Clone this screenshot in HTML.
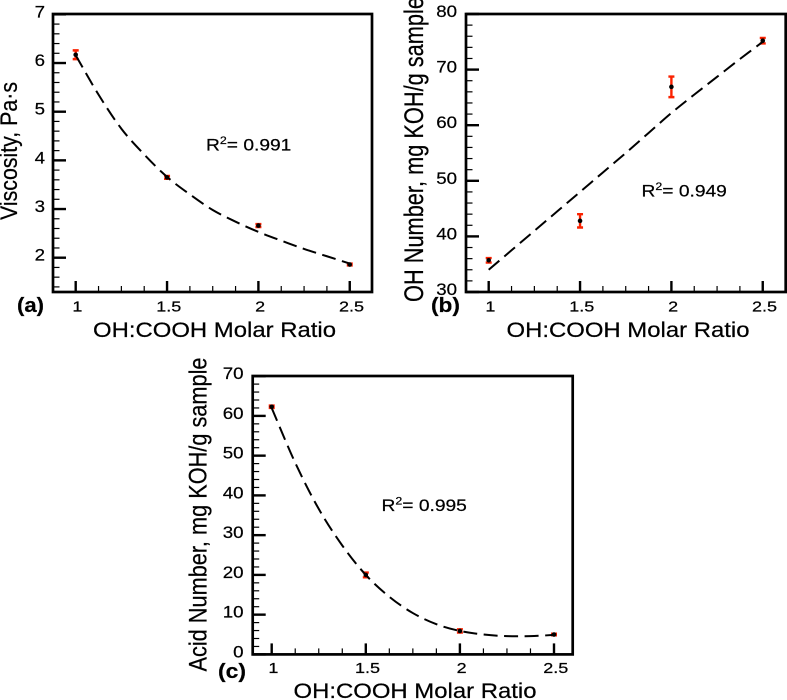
<!DOCTYPE html>
<html lang="en">
<head>
<meta charset="utf-8">
<title>OH:COOH Molar Ratio charts</title>
<style>
html,body{margin:0;padding:0;background:#fff;width:787px;height:700px;overflow:hidden}
svg{display:block}
text{font-family:"Liberation Sans",sans-serif;fill:#000;stroke:#000;stroke-width:0.22px}
</style>
</head>
<body>
<svg id="figure" xmlns="http://www.w3.org/2000/svg" width="787" height="700" viewBox="0 0 787 700">
<defs><filter id="soft" x="-2%" y="-2%" width="104%" height="104%"><feGaussianBlur stdDeviation="0.35"/></filter></defs>
<rect x="0" y="0" width="787" height="700" fill="#fff"/>
<g id="root" filter="url(#soft)">
  <g id="panel-a">
    <text transform="translate(17,220) rotate(-90)" font-size="24.5" textLength="138" lengthAdjust="spacingAndGlyphs">Viscosity, Pa·s</text>
    <text x="93" y="337" font-size="21" textLength="243" lengthAdjust="spacingAndGlyphs">OH:COOH Molar Ratio</text>
    <text x="17" y="312" font-size="20" font-weight="bold" textLength="27" lengthAdjust="spacingAndGlyphs">(a)</text>
    <text transform="translate(206,150.5) scale(1.13,1)" font-size="17">R<tspan font-size="11" dy="-6.5">2</tspan><tspan dy="6.5">= 0.991</tspan></text>
  </g>
  <g id="panel-b">
    <text transform="translate(423,302) rotate(-90)" font-size="26.5" textLength="305" lengthAdjust="spacingAndGlyphs">OH Number, mg KOH/g sample</text>
    <text x="506.5" y="337" font-size="21" textLength="243" lengthAdjust="spacingAndGlyphs">OH:COOH Molar Ratio</text>
    <text x="431" y="312" font-size="20" font-weight="bold" textLength="29" lengthAdjust="spacingAndGlyphs">(b)</text>
    <text transform="translate(641.5,196.5) scale(1.13,1)" font-size="17">R<tspan font-size="11" dy="-6.5">2</tspan><tspan dy="6.5">= 0.949</tspan></text>
  </g>
  <g id="panel-c">
    <text transform="translate(206.5,671.5) rotate(-90)" font-size="25" textLength="314" lengthAdjust="spacingAndGlyphs">Acid Number, mg KOH/g sample</text>
    <text x="293.5" y="698" font-size="21" textLength="243" lengthAdjust="spacingAndGlyphs">OH:COOH Molar Ratio</text>
    <text x="218" y="678" font-size="20" font-weight="bold" textLength="28" lengthAdjust="spacingAndGlyphs">(c)</text>
    <text transform="translate(381.5,511) scale(1.13,1)" font-size="17">R<tspan font-size="11" dy="-6.5">2</tspan><tspan dy="6.5">= 0.995</tspan></text>
  </g>
</g>
</svg>
<script>
// Shared category and tick data
const ratioCategories = [1, 1.5, 2, 2.5];
const ratioTickLabels = ['1', '1.5', '2', '2.5'];
const fitRatios = [1, 1.125, 1.25, 1.375, 1.5, 1.625, 1.75, 1.875, 2, 2.125, 2.25, 2.375, 2.5];

// Panel (a): viscosity
const viscosityValues = [6.17, 3.65, 2.66, 1.86];
const viscosityErrors = [0.09, 0.03, 0.03, 0.02];
const viscosityFit = [6.16, 5.35, 4.65, 4.12, 3.66, 3.3, 2.98, 2.74, 2.53, 2.35, 2.18, 2.03, 1.88];
const viscosityTickLabels = ['2', '3', '4', '5', '6', '7'];

// Panel (b): OH number
const ohNumberValues = [35.7, 42.8, 66.9, 75.2];
const ohNumberErrors = [0.4, 1.2, 1.85, 0.5];
const ohNumberFit = [34, 37.5, 41, 44.5, 48, 51.5, 55, 58.6, 62.2, 65.5, 68.7, 71.9, 75];
const ohNumberTickLabels = ['30', '40', '50', '60', '70', '80'];

// Panel (c): acid number
const acidNumberValues = [62.3, 20, 5.9, 5];
const acidNumberErrors = [0.3, 0.6, 0.4, 0.2];
const acidNumberFit = [62, 48.2, 36.6, 27.4, 20, 14.5, 10.4, 7.6, 5.9, 5, 4.6, 4.6, 4.9];
const acidNumberTickLabels = ['0', '10', '20', '30', '40', '50', '60', '70'];

const SVGNS = 'http://www.w3.org/2000/svg';

function make(parent, tag, attrs) {
  const el = document.createElementNS(SVGNS, tag);
  for (const k in attrs) el.setAttribute(k, attrs[k]);
  parent.appendChild(el);
  return el;
}

function smoothPath(pts) {
  let d = 'M' + pts[0][0].toFixed(2) + ' ' + pts[0][1].toFixed(2);
  for (let i = 0; i < pts.length - 1; i++) {
    const p0 = pts[Math.max(i - 1, 0)], p1 = pts[i], p2 = pts[i + 1], p3 = pts[Math.min(i + 2, pts.length - 1)];
    const c1x = p1[0] + (p2[0] - p0[0]) / 6, c1y = p1[1] + (p2[1] - p0[1]) / 6;
    const c2x = p2[0] - (p3[0] - p1[0]) / 6, c2y = p2[1] - (p3[1] - p1[1]) / 6;
    d += 'C' + [c1x, c1y, c2x, c2y, p2[0], p2[1]].map(n => n.toFixed(2)).join(' ');
  }
  return d;
}

function drawPanel(c) {
  const host = document.getElementById(c.host);
  const xScale = v => c.x1 + (v - 1) * c.xUnit;
  const yScale = v => c.yRef - (v - c.yRefValue) * c.yUnit;
  const yBottomValue = c.yRefValue - (c.bottom - c.yRef) / c.yUnit;
  const yTopValue = c.yRefValue + (c.yRef - c.top) / c.yUnit;

  const axes = make(host, 'g', {});
  
  

  // y minor ticks
  const firstY = Math.ceil(yBottomValue / c.yMinor - 1e-6);
  const lastY = Math.floor(yTopValue / c.yMinor + 1e-6);
  for (let i = firstY; i <= lastY; i++) {
    const y = yScale(i * c.yMinor);
    const tick = make(axes, 'line', { x1: c.left, x2: c.left + 6.5, y1: y, y2: y, stroke: '#000', 'stroke-width': 1.2 });
    
    
  }
  // x minor ticks
  for (let v = 1; v <= 2.5 + 1e-6; v += 0.125) {
    const x = xScale(v);
    const tick = make(axes, 'line', { x1: x, x2: x, y1: c.bottom, y2: c.bottom - 6, stroke: '#000', 'stroke-width': 1.2 });
    
    
  }
  // y major ticks + labels
  c.yLabels.forEach(label => {
    const v = Number(label);
    const y = yScale(v);
    const tick = make(axes, 'line', { x1: c.left, x2: c.left + 13, y1: y, y2: y, stroke: '#000', 'stroke-width': 2.4 });
    
    
    const t = make(axes, 'text', { transform: 'translate(' + c.yLabelX + ',' + (y + 3) + ') scale(1.1,1)', 'text-anchor': 'end', 'font-size': 17 });
    
    
    t.textContent = label;
  });
  // x major ticks + labels
  ratioTickLabels.forEach((label, i) => {
    const x = xScale(ratioCategories[i]);
    const tick = make(axes, 'line', { x1: x, x2: x, y1: c.bottom, y2: c.bottom - 11, stroke: '#000', 'stroke-width': 2.4 });
    
    
    const t = make(axes, 'text', { transform: 'translate(' + (x + 1.7) + ',' + c.xLabelY + ') scale(1.2,1)', 'text-anchor': 'middle', 'font-size': 15 });
    
    
    t.textContent = label;
  });
  // frame
  const frame = make(axes, 'rect', { x: c.left, y: c.top, width: c.right - c.left, height: c.bottom - c.top, fill: 'none', stroke: '#000', 'stroke-width': 2.7 });
  
  

  // error bars
  c.values.forEach((v, i) => {
    const x = xScale(ratioCategories[i]);
    const hi = yScale(v + c.errors[i]);
    const lo = yScale(v - c.errors[i]);
    const bar = make(host, 'path', { d: 'M' + (x - 3) + ' ' + hi + 'H' + (x + 3) + 'M' + x + ' ' + hi + 'V' + lo + 'M' + (x - 3) + ' ' + lo + 'H' + (x + 3), fill: 'none', stroke: '#fa2000', 'stroke-width': 2.4 });
    
    
  });

  // fit curve
  const pts = fitRatios.map((r, i) => [xScale(r), yScale(c.fit[i])]);
  const curve = make(host, 'path', { d: smoothPath(pts), fill: 'none', stroke: '#000', 'stroke-width': 2, 'stroke-dasharray': '14 6.5' });
  
  

  // points
  c.values.forEach((v, i) => {
    const dot = make(host, 'circle', { cx: xScale(ratioCategories[i]), cy: yScale(v), r: 2.3, fill: '#000' });
    
    
  });
}

drawPanel({ host: 'panel-a', left: 53, right: 372, top: 14, bottom: 292, x1: 75.7, xUnit: 182.7, yRef: 257.7, yRefValue: 2, yUnit: 48.67, yMinor: 0.2, yLabelX: 45, xLabelY: 311.5, yLabels: viscosityTickLabels, values: viscosityValues, errors: viscosityErrors, fit: viscosityFit });
drawPanel({ host: 'panel-b', left: 466, right: 785.7, top: 14, bottom: 292, x1: 488.7, xUnit: 182.7, yRef: 292, yRefValue: 30, yUnit: 5.56, yMinor: 2, yLabelX: 457, xLabelY: 311.5, yLabels: ohNumberTickLabels, values: ohNumberValues, errors: ohNumberErrors, fit: ohNumberFit });
drawPanel({ host: 'panel-c', left: 252.7, right: 572.7, top: 376, bottom: 654.4, x1: 271.7, xUnit: 188.2, yRef: 654.4, yRefValue: 0, yUnit: 3.975, yMinor: 2, yLabelX: 243.5, xLabelY: 673, yLabels: acidNumberTickLabels, values: acidNumberValues, errors: acidNumberErrors, fit: acidNumberFit });
</script>
</body>
</html>
